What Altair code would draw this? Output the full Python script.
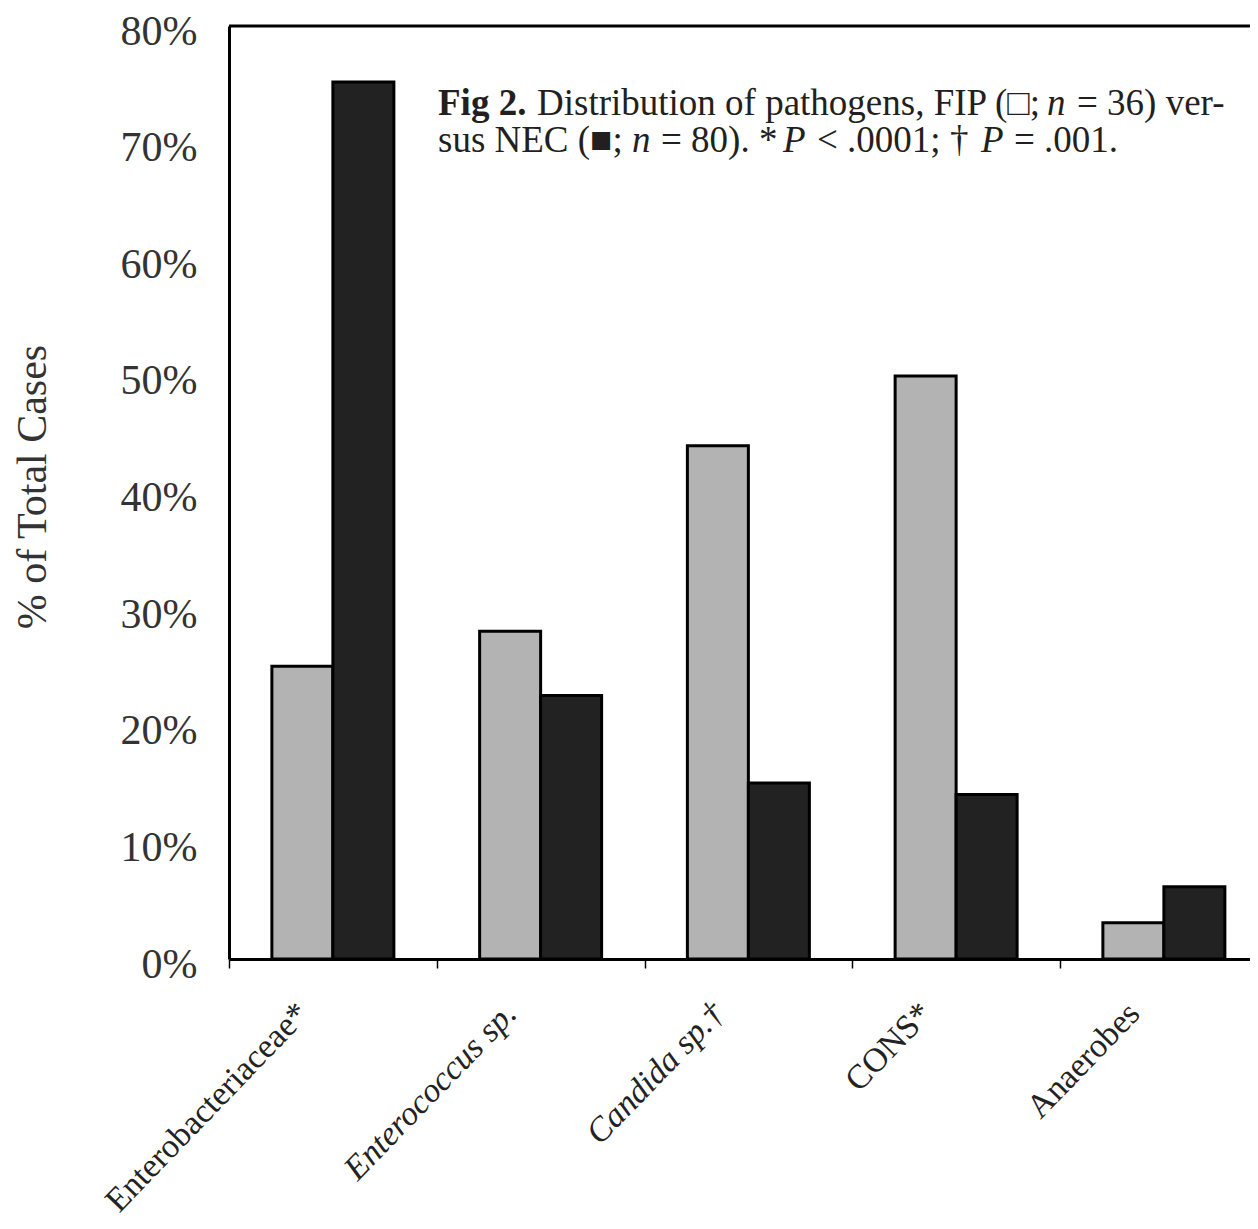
import altair as alt
import pandas as pd

# ---- data ----
categories = ["Enterobacteriaceae*", "Enterococcus sp.", "Candida sp.†", "CONS*", "Anaerobes"]
series_names = ["FIP", "NEC"]
fip_values = [25.1, 28.1, 44.0, 50.0, 3.1]
nec_values = [75.2, 22.6, 15.1, 14.1, 6.2]
y_ticks = [0, 10, 20, 30, 40, 50, 60, 70, 80]
italic_labels = ["Enterococcus sp.", "Candida sp.†"]

rows = []
for c, f, n in zip(categories, fip_values, nec_values):
    rows.append({"pathogen": c, "group": "FIP", "pct": f})
    rows.append({"pathogen": c, "group": "NEC", "pct": n})
df = pd.DataFrame(rows)

W = 1021
H = 933
STEP = 207.75
X_RANGE = 5 * STEP
OFFSET_PAD = 0.703

SERIF = "Liberation Serif"
INK = "#231f20"

bars = alt.Chart(df).mark_bar(stroke="black", strokeWidth=3).encode(
    x=alt.X(
        "pathogen:N",
        sort=categories,
        scale=alt.Scale(range=[0, X_RANGE], paddingInner=0, paddingOuter=0),
        axis=alt.Axis(
            title=None,
            labelAngle=-46,
            labelAlign="right",
            labelBaseline="middle",
            labelFont=SERIF,
            labelFontSize=34,
            labelColor="#222222",
            labelFontStyle={
                "condition": {
                    "test": "indexof(" + str(italic_labels).replace("'", '"') + ", datum.value) >= 0",
                    "value": "italic",
                },
                "value": "normal",
            },
            labelPadding=40,
            labelOffset=-30,
            labelLimit=600,
            labelOverlap=False,
            tickBand="extent",
            ticks=True,
            tickSize=9,
            tickColor="black",
            tickWidth=1.5,
            domainColor="black",
            domainWidth=3,
            grid=False,
        ),
    ),
    xOffset=alt.XOffset(
        "group:N",
        sort=series_names,
        scale=alt.Scale(paddingInner=0, paddingOuter=OFFSET_PAD),
    ),
    y=alt.Y(
        "pct:Q",
        scale=alt.Scale(domain=[0, 80], nice=False),
        axis=alt.Axis(
            values=y_ticks,
            labelExpr="datum.value + '%'",
            ticks=False,
            grid=False,
            domainColor="black",
            domainWidth=3,
            labelFont=SERIF,
            labelFontSize=42,
            labelColor="#333333",
            labelPadding=32,
            labelOffset=5,
            title="% of Total Cases",
            titleFont=SERIF,
            titleFontSize=42,
            titleFontWeight="normal",
            titleColor="#333333",
            titleX=-197,
            titleY=H / 2 - 6,
            titleBaseline="middle",
            titleAngle=270,
        ),
    ),
    color=alt.Color(
        "group:N",
        scale=alt.Scale(domain=series_names, range=["#b3b3b3", "#222222"]),
        legend=None,
    ),
)

top_line = alt.Chart(pd.DataFrame({"top": [80]})).mark_rule(color="black", strokeWidth=3).encode(
    y=alt.Y(datum=80)
)


def caption(s, x, y, weight="normal", style="normal"):
    return alt.Chart(pd.DataFrame({"t": [s]})).mark_text(
        align="left",
        baseline="alphabetic",
        font=SERIF,
        fontSize=37,
        fontWeight=weight,
        fontStyle=style,
        color=INK,
    ).encode(x=alt.value(x), y=alt.value(y), text="t:N")


L1 = 89
L2 = 126
captions = [
    caption("Fig 2.", 209, L1, weight="bold"),
    caption("Distribution of pathogens, FIP (□;", 308, L1),
    caption("n", 818, L1, style="italic"),
    caption("= 36) ver-", 848, L1),
    caption("sus NEC (■;", 209, L2),
    caption("n", 403, L2, style="italic"),
    caption("= 80). *", 432, L2),
    caption("P", 554, L2, style="italic"),
    caption("< .0001; †", 588, L2),
    caption("P", 752, L2, style="italic"),
    caption("= .001.", 785, L2),
]

chart = alt.layer(bars, top_line, *captions).properties(
    width=W,
    height=H,
    padding={"left": 221, "top": 18, "right": 0, "bottom": 262},
    autosize=alt.AutoSizeParams(type="none"),
    background="white",
).configure_view(stroke=None)

chart.save("out.html", embed_options={"renderer": "svg", "actions": False})
